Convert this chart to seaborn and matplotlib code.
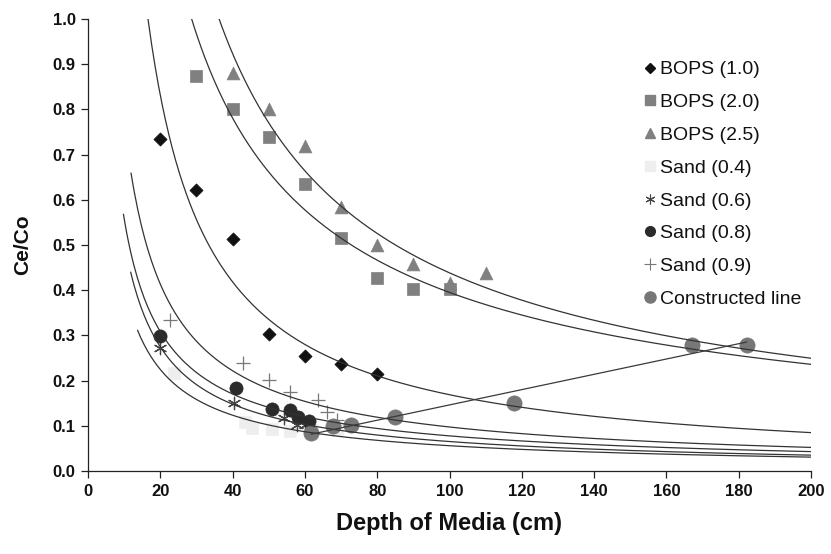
import numpy as np
import pandas as pd
import matplotlib
matplotlib.use("Agg")
import matplotlib.pyplot as plt
from matplotlib.lines import Line2D
import seaborn as sns

# ---------------- data ----------------
bops10_x = [20, 30, 40, 50, 60, 70, 80]
bops10_y = [0.734, 0.622, 0.513, 0.302, 0.255, 0.237, 0.215]

bops20_x = [30, 40, 50, 60, 70, 80, 90, 100]
bops20_y = [0.875, 0.800, 0.738, 0.634, 0.515, 0.428, 0.402, 0.403]

bops25_x = [40, 50, 60, 70, 80, 90, 100, 110]
bops25_y = [0.881, 0.800, 0.720, 0.583, 0.499, 0.459, 0.417, 0.437]

sand04_x = [23.7, 43.5, 45.4, 50.8, 56.0, 62.0, 69.0]
sand04_y = [0.216, 0.108, 0.096, 0.092, 0.089, 0.090, 0.090]

sand06_x = [19.9, 40.4, 54.3, 57.7, 60.0]
sand06_y = [0.273, 0.150, 0.117, 0.102, 0.102]

sand08_x = [19.9, 40.9, 50.9, 56.0, 58.0, 61.0]
sand08_y = [0.299, 0.184, 0.137, 0.135, 0.119, 0.111]

sand09_x = [22.7, 42.8, 50.0, 56.0, 63.7, 66.0, 68.8]
sand09_y = [0.333, 0.240, 0.201, 0.174, 0.157, 0.131, 0.112]

cons_x = [61.7, 67.9, 72.7, 84.9, 117.8, 167.0, 182.2]
cons_y = [0.085, 0.099, 0.102, 0.119, 0.151, 0.2795, 0.2795]

labels = ["BOPS (1.0)", "BOPS (2.0)", "BOPS (2.5)", "Sand (0.4)",
          "Sand (0.6)", "Sand (0.8)", "Sand (0.9)", "Constructed line"]

x_ticks = list(range(0, 201, 20))
y_ticks = [i / 10 for i in range(0, 11)]

# ---------------- styling ----------------
sns.set_theme(style="white")
plt.rcParams["font.family"] = ["Liberation Sans", "DejaVu Sans"]

W, H = 831, 554
fig = plt.figure(figsize=(W / 100, H / 100), dpi=100)
ax = fig.add_axes([88 / W, 83 / H, 723 / W, 452 / H])

series = [
    (bops10_x, bops10_y, dict(marker="D", s=45, color="#111111", edgecolor="#111111", linewidth=0.5)),
    (bops20_x, bops20_y, dict(marker="s", s=75, color="#808080", edgecolor="#808080", linewidth=0.5)),
    (bops25_x, bops25_y, dict(marker="^", s=85, color="#808080", edgecolor="#808080", linewidth=0.5)),
    (sand04_x, sand04_y, dict(marker="s", s=75, color="#eeeeee", edgecolor="#eeeeee", linewidth=0.5)),
    (sand06_x, sand06_y, dict(marker=(6, 2, 0), s=80, color="#444444", linewidth=0.9)),
    (sand08_x, sand08_y, dict(marker="o", s=90, color="#2b2b2b", edgecolor="#2b2b2b", linewidth=0.5)),
    (sand09_x, sand09_y, dict(marker="+", s=110, color="#777777", linewidth=0.9)),
    (cons_x, cons_y, dict(marker="o", s=120, color="#777777", edgecolor="#777777", linewidth=0.5)),
]

for (xs, ys, kw) in series:
    sns.scatterplot(x=xs, y=ys, ax=ax, zorder=3, legend=False, **kw)

# power trendlines (least squares in log-log space), as in the original chart
trend_series = [(bops10_x, bops10_y, 10), (bops20_x, bops20_y, 20), (bops25_x, bops25_y, 30),
                (sand04_x, sand04_y, 13.7), (sand06_x, sand06_y, 11.8),
                (sand08_x, sand08_y, 9.8), (sand09_x, sand09_y, 11.9)]
for xs, ys, x0 in trend_series:
    b, ln_a = np.polyfit(np.log(xs), np.log(ys), 1)
    xx = np.linspace(x0, 200, 400)
    df = pd.DataFrame({"x": xx, "y": np.exp(ln_a) * xx ** b})
    sns.lineplot(data=df, x="x", y="y", ax=ax, color="#333333", linewidth=0.9,
                 estimator=None, sort=False, zorder=4)

# linear trendline of the constructed points
m, c = np.polyfit(cons_x, cons_y, 1)
xx = np.array([min(cons_x), max(cons_x)])
sns.lineplot(x=xx, y=m * xx + c, ax=ax, color="#3a3a3a", linewidth=0.9,
             estimator=None, zorder=4)

ax.set_xlim(0, 200)
ax.set_ylim(0, 1.0)
ax.set_xticks(x_ticks)
ax.set_yticks(y_ticks)
ax.set_xticklabels([str(t) for t in x_ticks])
ax.set_yticklabels([f"{t:.1f}" for t in y_ticks])
for lab in ax.get_xticklabels() + ax.get_yticklabels():
    lab.set_fontweight("bold")
    lab.set_fontsize(12)
    lab.set_color("#111111")
ax.tick_params(axis="both", direction="out", length=5, width=0.9, color="#222222",
               bottom=True, left=True, pad=4)
for side in ["top", "right"]:
    ax.spines[side].set_visible(False)
for side in ["left", "bottom"]:
    ax.spines[side].set_color("#222222")
    ax.spines[side].set_linewidth(0.9)
ax.set_xlabel("Depth of Media (cm)", fontsize=17, fontweight="bold", color="#111111", labelpad=10)
ax.set_ylabel("Ce/Co", fontsize=15, fontweight="bold", color="#111111", labelpad=15)
ax.grid(False)

# legend
leg_style = [dict(marker="D", color="#111111", ms=5),
             dict(marker="s", color="#808080", ms=7),
             dict(marker="^", color="#808080", ms=7),
             dict(marker="s", color="#eeeeee", ms=7),
             dict(marker=(6, 2, 0), color="#444444", ms=7, mew=0.8),
             dict(marker="o", color="#2b2b2b", ms=7),
             dict(marker="+", color="#777777", ms=8, mew=0.8),
             dict(marker="o", color="#777777", ms=8)]
handles = [Line2D([], [], linestyle="none", **st) for st in leg_style]
ax.legend(handles, labels, loc="upper left", bbox_to_anchor=(548 / 723, 1 - 34 / 452),
          frameon=False, fontsize=14, handlelength=0.6, handletextpad=0.25,
          labelspacing=0.78, borderaxespad=0, labelcolor="#111111")

fig.savefig("out.png", dpi=100)
